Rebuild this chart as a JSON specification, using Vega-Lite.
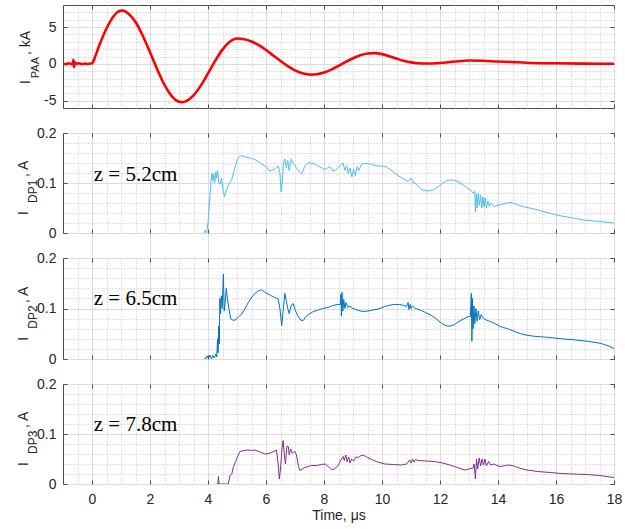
{
  "$schema": "https://vega.github.io/schema/vega-lite/v6.json",
  "padding": {"left": 16, "top": 4, "right": 5, "bottom": 5},
  "background": "white",
  "bounds": "flush",
  "spacing": 25,
  "config": {
    "view": {"stroke": "#4d4d4d", "strokeWidth": 1},
    "font": "Liberation Sans",
    "axis": {"labelFont": "Liberation Sans", "labelFontSize": 14, "labelColor": "#262626", "domain": false, "titleFont": "Liberation Sans", "titleFontSize": 14, "titleFontWeight": "normal", "titleColor": "#262626"}
  },
  "datasets": {
    "paa": [
      {"t": -1.0, "v": 0.02}, {"t": -0.9, "v": -0.05}, {"t": -0.8, "v": 0.08}, {"t": -0.7, "v": -0.03}, {"t": -0.66, "v": 0.1}, {"t": -0.64, "v": 0.55}, {"t": -0.62, "v": -0.45}, {"t": -0.6, "v": 0.25}, {"t": -0.55, "v": 0.0}, {"t": -0.45, "v": 0.08}, {"t": -0.35, "v": -0.05}, {"t": -0.25, "v": 0.05}, {"t": -0.15, "v": -0.02}, {"t": -0.05, "v": 0.05}, {"t": 0.0, "v": 0.05},
      {"t": 0.1, "v": 0.9}, {"t": 0.25, "v": 2.5}, {"t": 0.5, "v": 4.8}, {"t": 0.75, "v": 6.5}, {"t": 0.9, "v": 7.1}, {"t": 1.05, "v": 7.25}, {"t": 1.25, "v": 6.85}, {"t": 1.5, "v": 5.68}, {"t": 1.75, "v": 3.82}, {"t": 2.0, "v": 1.57}, {"t": 2.25, "v": -0.77}, {"t": 2.5, "v": -2.86}, {"t": 2.75, "v": -4.38}, {"t": 3.0, "v": -5.14}, {"t": 3.1, "v": -5.2}, {"t": 3.25, "v": -5.06}, {"t": 3.5, "v": -4.28}, {"t": 3.75, "v": -2.96}, {"t": 4.0, "v": -1.3}, {"t": 4.25, "v": 0.43}, {"t": 4.5, "v": 1.94}, {"t": 4.75, "v": 3.0}, {"t": 5.0, "v": 3.44}, {"t": 5.25, "v": 3.35}, {"t": 5.5, "v": 3.04}, {"t": 5.75, "v": 2.53}, {"t": 6.0, "v": 1.88}, {"t": 6.25, "v": 1.14}, {"t": 6.5, "v": 0.39}, {"t": 6.75, "v": -0.3}, {"t": 7.0, "v": -0.88}, {"t": 7.25, "v": -1.27}, {"t": 7.55, "v": -1.46}, {"t": 7.75, "v": -1.41}, {"t": 8.0, "v": -1.17}, {"t": 8.25, "v": -0.78}, {"t": 8.5, "v": -0.28}, {"t": 8.75, "v": 0.26}, {"t": 9.0, "v": 0.76}, {"t": 9.25, "v": 1.16}, {"t": 9.5, "v": 1.4}, {"t": 9.75, "v": 1.46}, {"t": 10.0, "v": 1.32}, {"t": 10.25, "v": 1.05}, {"t": 10.5, "v": 0.72}, {"t": 10.75, "v": 0.42}, {"t": 11.0, "v": 0.2}, {"t": 11.25, "v": 0.08}, {"t": 11.5, "v": 0.04}, {"t": 12.0, "v": 0.12}, {"t": 12.5, "v": 0.32}, {"t": 13.0, "v": 0.46}, {"t": 13.5, "v": 0.42}, {"t": 14.0, "v": 0.32}, {"t": 14.5, "v": 0.24}, {"t": 15.0, "v": 0.16}, {"t": 16.0, "v": 0.08}, {"t": 17.0, "v": 0.03}, {"t": 18.0, "v": 0.02}
    ],
    "dp1": [
      {"t": 3.86, "v": 0.0}, {"t": 3.9, "v": 0.005}, {"t": 3.95, "v": 0.0}, {"t": 4.0, "v": 0.02}, {"t": 4.05, "v": 0.06}, {"t": 4.1, "v": 0.1}, {"t": 4.13, "v": 0.12}, {"t": 4.17, "v": 0.105}, {"t": 4.2, "v": 0.118}, {"t": 4.23, "v": 0.1}, {"t": 4.27, "v": 0.122}, {"t": 4.3, "v": 0.11}, {"t": 4.33, "v": 0.125}, {"t": 4.37, "v": 0.1}, {"t": 4.42, "v": 0.098}, {"t": 4.47, "v": 0.11}, {"t": 4.52, "v": 0.085}, {"t": 4.57, "v": 0.073}, {"t": 4.6, "v": 0.08}, {"t": 4.7, "v": 0.095}, {"t": 4.82, "v": 0.107}, {"t": 4.9, "v": 0.125}, {"t": 5.0, "v": 0.145}, {"t": 5.05, "v": 0.15}, {"t": 5.15, "v": 0.155}, {"t": 5.3, "v": 0.152}, {"t": 5.45, "v": 0.15}, {"t": 5.62, "v": 0.147}, {"t": 5.8, "v": 0.14}, {"t": 5.96, "v": 0.134}, {"t": 6.14, "v": 0.124}, {"t": 6.3, "v": 0.128}, {"t": 6.42, "v": 0.134}, {"t": 6.48, "v": 0.12}, {"t": 6.52, "v": 0.082}, {"t": 6.56, "v": 0.1}, {"t": 6.6, "v": 0.14}, {"t": 6.65, "v": 0.148}, {"t": 6.7, "v": 0.13}, {"t": 6.75, "v": 0.145}, {"t": 6.8, "v": 0.125}, {"t": 6.87, "v": 0.148}, {"t": 6.94, "v": 0.14}, {"t": 7.0, "v": 0.135}, {"t": 7.1, "v": 0.125}, {"t": 7.23, "v": 0.118}, {"t": 7.34, "v": 0.134}, {"t": 7.46, "v": 0.141}, {"t": 7.68, "v": 0.138}, {"t": 7.9, "v": 0.131}, {"t": 8.02, "v": 0.127}, {"t": 8.12, "v": 0.13}, {"t": 8.2, "v": 0.133}, {"t": 8.31, "v": 0.124}, {"t": 8.4, "v": 0.126}, {"t": 8.49, "v": 0.131}, {"t": 8.6, "v": 0.137}, {"t": 8.66, "v": 0.14}, {"t": 8.72, "v": 0.125}, {"t": 8.78, "v": 0.135}, {"t": 8.84, "v": 0.118}, {"t": 8.9, "v": 0.13}, {"t": 8.96, "v": 0.112}, {"t": 9.02, "v": 0.128}, {"t": 9.08, "v": 0.115}, {"t": 9.14, "v": 0.133}, {"t": 9.2, "v": 0.125}, {"t": 9.29, "v": 0.137}, {"t": 9.4, "v": 0.139}, {"t": 9.52, "v": 0.139}, {"t": 9.7, "v": 0.136}, {"t": 9.87, "v": 0.134}, {"t": 10.0, "v": 0.134}, {"t": 10.15, "v": 0.132}, {"t": 10.35, "v": 0.124}, {"t": 10.55, "v": 0.115}, {"t": 10.75, "v": 0.108}, {"t": 10.9, "v": 0.103}, {"t": 10.95, "v": 0.106}, {"t": 11.0, "v": 0.11}, {"t": 11.05, "v": 0.104}, {"t": 11.1, "v": 0.1}, {"t": 11.2, "v": 0.097}, {"t": 11.3, "v": 0.09}, {"t": 11.4, "v": 0.086}, {"t": 11.48, "v": 0.085}, {"t": 11.6, "v": 0.084}, {"t": 11.77, "v": 0.086}, {"t": 11.9, "v": 0.091}, {"t": 12.05, "v": 0.098}, {"t": 12.2, "v": 0.104}, {"t": 12.34, "v": 0.106}, {"t": 12.45, "v": 0.106}, {"t": 12.57, "v": 0.104}, {"t": 12.7, "v": 0.1}, {"t": 12.85, "v": 0.094}, {"t": 13.0, "v": 0.088}, {"t": 13.15, "v": 0.08}, {"t": 13.2, "v": 0.084}, {"t": 13.22, "v": 0.042}, {"t": 13.25, "v": 0.078}, {"t": 13.28, "v": 0.05}, {"t": 13.32, "v": 0.08}, {"t": 13.36, "v": 0.055}, {"t": 13.4, "v": 0.076}, {"t": 13.44, "v": 0.05}, {"t": 13.48, "v": 0.072}, {"t": 13.52, "v": 0.052}, {"t": 13.56, "v": 0.07}, {"t": 13.6, "v": 0.05}, {"t": 13.65, "v": 0.064}, {"t": 13.7, "v": 0.053}, {"t": 13.75, "v": 0.06}, {"t": 13.85, "v": 0.053}, {"t": 14.0, "v": 0.055}, {"t": 14.2, "v": 0.059}, {"t": 14.45, "v": 0.061}, {"t": 14.6, "v": 0.058}, {"t": 14.79, "v": 0.054}, {"t": 15.0, "v": 0.051}, {"t": 15.25, "v": 0.048}, {"t": 15.5, "v": 0.044}, {"t": 15.82, "v": 0.039}, {"t": 16.1, "v": 0.035}, {"t": 16.4, "v": 0.032}, {"t": 16.7, "v": 0.029}, {"t": 16.97, "v": 0.026}, {"t": 17.3, "v": 0.024}, {"t": 17.54, "v": 0.023}, {"t": 17.8, "v": 0.021}, {"t": 18.0, "v": 0.02}
    ],
    "dp2": [
      {"t": 3.87, "v": 0.002}, {"t": 3.92, "v": 0.0}, {"t": 3.97, "v": 0.006}, {"t": 4.02, "v": 0.001}, {"t": 4.07, "v": 0.008}, {"t": 4.12, "v": 0.0}, {"t": 4.17, "v": 0.007}, {"t": 4.22, "v": 0.002}, {"t": 4.27, "v": 0.01}, {"t": 4.3, "v": 0.004}, {"t": 4.33, "v": 0.04}, {"t": 4.35, "v": 0.012}, {"t": 4.37, "v": 0.065}, {"t": 4.39, "v": 0.03}, {"t": 4.41, "v": 0.12}, {"t": 4.43, "v": 0.09}, {"t": 4.46, "v": 0.125}, {"t": 4.49, "v": 0.1}, {"t": 4.53, "v": 0.168}, {"t": 4.56, "v": 0.095}, {"t": 4.59, "v": 0.11}, {"t": 4.63, "v": 0.14}, {"t": 4.67, "v": 0.12}, {"t": 4.72, "v": 0.1}, {"t": 4.78, "v": 0.08}, {"t": 4.85, "v": 0.077}, {"t": 4.93, "v": 0.077}, {"t": 5.05, "v": 0.083}, {"t": 5.16, "v": 0.089}, {"t": 5.28, "v": 0.1}, {"t": 5.39, "v": 0.112}, {"t": 5.55, "v": 0.126}, {"t": 5.73, "v": 0.135}, {"t": 5.85, "v": 0.137}, {"t": 5.96, "v": 0.132}, {"t": 6.1, "v": 0.128}, {"t": 6.19, "v": 0.125}, {"t": 6.3, "v": 0.122}, {"t": 6.42, "v": 0.119}, {"t": 6.48, "v": 0.1}, {"t": 6.54, "v": 0.066}, {"t": 6.6, "v": 0.1}, {"t": 6.65, "v": 0.13}, {"t": 6.7, "v": 0.115}, {"t": 6.75, "v": 0.1}, {"t": 6.8, "v": 0.09}, {"t": 6.86, "v": 0.105}, {"t": 6.94, "v": 0.11}, {"t": 7.0, "v": 0.098}, {"t": 7.1, "v": 0.085}, {"t": 7.2, "v": 0.077}, {"t": 7.28, "v": 0.076}, {"t": 7.36, "v": 0.083}, {"t": 7.46, "v": 0.088}, {"t": 7.6, "v": 0.093}, {"t": 7.8, "v": 0.097}, {"t": 7.95, "v": 0.1}, {"t": 8.14, "v": 0.102}, {"t": 8.3, "v": 0.106}, {"t": 8.49, "v": 0.108}, {"t": 8.56, "v": 0.108}, {"t": 8.58, "v": 0.128}, {"t": 8.6, "v": 0.085}, {"t": 8.62, "v": 0.132}, {"t": 8.65, "v": 0.095}, {"t": 8.68, "v": 0.118}, {"t": 8.72, "v": 0.1}, {"t": 8.76, "v": 0.112}, {"t": 8.82, "v": 0.102}, {"t": 8.9, "v": 0.105}, {"t": 8.95, "v": 0.101}, {"t": 9.1, "v": 0.098}, {"t": 9.25, "v": 0.095}, {"t": 9.41, "v": 0.094}, {"t": 9.6, "v": 0.096}, {"t": 9.87, "v": 0.099}, {"t": 10.1, "v": 0.104}, {"t": 10.3, "v": 0.107}, {"t": 10.44, "v": 0.108}, {"t": 10.6, "v": 0.108}, {"t": 10.75, "v": 0.106}, {"t": 10.85, "v": 0.104}, {"t": 10.9, "v": 0.112}, {"t": 10.93, "v": 0.098}, {"t": 10.97, "v": 0.108}, {"t": 11.0, "v": 0.1}, {"t": 11.05, "v": 0.105}, {"t": 11.15, "v": 0.1}, {"t": 11.36, "v": 0.096}, {"t": 11.5, "v": 0.092}, {"t": 11.71, "v": 0.086}, {"t": 11.9, "v": 0.078}, {"t": 12.05, "v": 0.071}, {"t": 12.2, "v": 0.066}, {"t": 12.34, "v": 0.065}, {"t": 12.5, "v": 0.068}, {"t": 12.62, "v": 0.073}, {"t": 12.8, "v": 0.079}, {"t": 12.97, "v": 0.084}, {"t": 13.05, "v": 0.084}, {"t": 13.08, "v": 0.13}, {"t": 13.1, "v": 0.035}, {"t": 13.12, "v": 0.12}, {"t": 13.14, "v": 0.06}, {"t": 13.17, "v": 0.105}, {"t": 13.2, "v": 0.07}, {"t": 13.24, "v": 0.1}, {"t": 13.28, "v": 0.075}, {"t": 13.32, "v": 0.095}, {"t": 13.37, "v": 0.078}, {"t": 13.42, "v": 0.088}, {"t": 13.5, "v": 0.08}, {"t": 13.6, "v": 0.077}, {"t": 13.75, "v": 0.074}, {"t": 13.9, "v": 0.07}, {"t": 14.05, "v": 0.065}, {"t": 14.2, "v": 0.062}, {"t": 14.33, "v": 0.06}, {"t": 14.55, "v": 0.055}, {"t": 14.79, "v": 0.05}, {"t": 15.0, "v": 0.047}, {"t": 15.25, "v": 0.045}, {"t": 15.5, "v": 0.044}, {"t": 15.71, "v": 0.043}, {"t": 16.2, "v": 0.04}, {"t": 16.63, "v": 0.038}, {"t": 17.1, "v": 0.035}, {"t": 17.54, "v": 0.031}, {"t": 17.8, "v": 0.026}, {"t": 18.0, "v": 0.021}
    ],
    "dp3": [
      {"t": 4.3, "v": 0.0}, {"t": 4.34, "v": 0.0}, {"t": 4.36, "v": 0.015}, {"t": 4.38, "v": 0.0}, {"t": 4.7, "v": 0.0}, {"t": 4.76, "v": 0.017}, {"t": 4.82, "v": 0.02}, {"t": 4.87, "v": 0.033}, {"t": 4.95, "v": 0.045}, {"t": 5.02, "v": 0.055}, {"t": 5.1, "v": 0.065}, {"t": 5.25, "v": 0.067}, {"t": 5.39, "v": 0.068}, {"t": 5.5, "v": 0.067}, {"t": 5.62, "v": 0.068}, {"t": 5.8, "v": 0.064}, {"t": 5.96, "v": 0.06}, {"t": 6.1, "v": 0.061}, {"t": 6.19, "v": 0.063}, {"t": 6.3, "v": 0.066}, {"t": 6.36, "v": 0.068}, {"t": 6.42, "v": 0.04}, {"t": 6.46, "v": 0.01}, {"t": 6.5, "v": 0.03}, {"t": 6.55, "v": 0.07}, {"t": 6.59, "v": 0.087}, {"t": 6.63, "v": 0.06}, {"t": 6.67, "v": 0.04}, {"t": 6.72, "v": 0.075}, {"t": 6.77, "v": 0.075}, {"t": 6.8, "v": 0.058}, {"t": 6.85, "v": 0.07}, {"t": 6.9, "v": 0.062}, {"t": 6.94, "v": 0.063}, {"t": 7.0, "v": 0.065}, {"t": 7.05, "v": 0.058}, {"t": 7.12, "v": 0.035}, {"t": 7.17, "v": 0.027}, {"t": 7.25, "v": 0.03}, {"t": 7.34, "v": 0.033}, {"t": 7.45, "v": 0.035}, {"t": 7.57, "v": 0.037}, {"t": 7.75, "v": 0.037}, {"t": 7.91, "v": 0.039}, {"t": 8.05, "v": 0.04}, {"t": 8.15, "v": 0.035}, {"t": 8.25, "v": 0.029}, {"t": 8.36, "v": 0.03}, {"t": 8.49, "v": 0.037}, {"t": 8.6, "v": 0.05}, {"t": 8.66, "v": 0.055}, {"t": 8.7, "v": 0.047}, {"t": 8.75, "v": 0.058}, {"t": 8.8, "v": 0.044}, {"t": 8.85, "v": 0.054}, {"t": 8.9, "v": 0.042}, {"t": 8.95, "v": 0.05}, {"t": 9.02, "v": 0.046}, {"t": 9.1, "v": 0.054}, {"t": 9.18, "v": 0.053}, {"t": 9.25, "v": 0.056}, {"t": 9.35, "v": 0.058}, {"t": 9.5, "v": 0.053}, {"t": 9.64, "v": 0.049}, {"t": 9.85, "v": 0.044}, {"t": 10.1, "v": 0.04}, {"t": 10.4, "v": 0.039}, {"t": 10.67, "v": 0.038}, {"t": 10.85, "v": 0.04}, {"t": 10.95, "v": 0.048}, {"t": 11.0, "v": 0.042}, {"t": 11.05, "v": 0.05}, {"t": 11.1, "v": 0.044}, {"t": 11.15, "v": 0.049}, {"t": 11.24, "v": 0.047}, {"t": 11.5, "v": 0.046}, {"t": 11.81, "v": 0.045}, {"t": 12.1, "v": 0.042}, {"t": 12.39, "v": 0.037}, {"t": 12.6, "v": 0.033}, {"t": 12.85, "v": 0.028}, {"t": 13.0, "v": 0.03}, {"t": 13.14, "v": 0.032}, {"t": 13.18, "v": 0.04}, {"t": 13.22, "v": 0.01}, {"t": 13.26, "v": 0.05}, {"t": 13.3, "v": 0.03}, {"t": 13.35, "v": 0.052}, {"t": 13.4, "v": 0.036}, {"t": 13.45, "v": 0.05}, {"t": 13.5, "v": 0.038}, {"t": 13.55, "v": 0.05}, {"t": 13.6, "v": 0.036}, {"t": 13.68, "v": 0.045}, {"t": 13.75, "v": 0.038}, {"t": 13.85, "v": 0.04}, {"t": 14.0, "v": 0.036}, {"t": 14.1, "v": 0.035}, {"t": 14.25, "v": 0.037}, {"t": 14.39, "v": 0.038}, {"t": 14.6, "v": 0.035}, {"t": 14.79, "v": 0.031}, {"t": 15.0, "v": 0.028}, {"t": 15.37, "v": 0.025}, {"t": 15.8, "v": 0.023}, {"t": 16.17, "v": 0.021}, {"t": 16.6, "v": 0.02}, {"t": 17.08, "v": 0.019}, {"t": 17.5, "v": 0.017}, {"t": 18.0, "v": 0.013}
    ]
  },
  "vconcat": [
    {
      "width": 551, "height": 103,
      "resolve": {"axis": {"x": "independent", "y": "independent"}},
      "layer": [
        {
          "data": {"name": "paa"},
          "mark": {"type": "line", "color": "#ff0000", "strokeWidth": 2.6, "interpolate": "monotone", "clip": true},
          "encoding": {
            "x": {"field": "t", "type": "quantitative", "scale": {"domain": [-1, 18], "nice": false, "zero": false},
              "axis": {"orient": "bottom", "values": [0,2,4,6,8,10,12,14,16,18], "labels": false, "title": null, "grid": true, "gridColor": "#dcdcdc", "ticks": true, "tickSize": 25, "tickColor": "#dcdcdc"}},
            "y": {"field": "v", "type": "quantitative", "scale": {"domain": [-6, 8], "nice": false, "zero": false},
              "axis": {"orient": "left", "values": [-5,0,5], "labelExpr": "'' + datum.value", "title": null, "grid": true, "gridColor": "#dcdcdc", "ticks": true, "tickSize": -4, "tickColor": "#4d4d4d", "labelPadding": 11, "labelFlush": false}}
          }
        },
        {
          "data": {"values": [{}]},
          "mark": {"type": "text", "text": "I", "angle": 270, "align": "left", "baseline": "alphabetic", "fontSize": 14, "font": "Liberation Sans", "fill": "#262626"},
          "encoding": {
            "x": {"datum": -2.14, "type": "quantitative", "scale": {"domain": [-1, 18], "nice": false, "zero": false},
              "axis": {"orient": "top", "values": [-0.5,0.5,1,1.5,2.5,3,3.5,4.5,5,5.5,6.5,7,7.5,8.5,9,9.5,10.5,11,11.5,12.5,13,13.5,14.5,15,15.5,16.5,17,17.5], "labels": false, "ticks": false, "title": null, "grid": true, "gridColor": "#c4c4c4", "gridDash": [1, 2]}},
            "y": {"datum": -2.74, "type": "quantitative", "scale": {"domain": [-6, 8], "nice": false, "zero": false},
              "axis": {"orient": "right", "values": [-4,-3,-2,-1,1,2,3,4,6,7], "labels": false, "ticks": false, "title": null, "grid": true, "gridColor": "#c4c4c4", "gridDash": [1, 2]}}
          }
        },
        {
          "data": {"values": [{}]},
          "mark": {"type": "text", "text": "PAA", "angle": 270, "align": "left", "baseline": "alphabetic", "fontSize": 11, "font": "Liberation Sans", "fill": "#262626"},
          "encoding": {
            "x": {"datum": -1.83, "type": "quantitative", "scale": {"domain": [-1, 18], "nice": false, "zero": false},
              "axis": {"orient": "top", "values": [0,2,4,6,8,10,12,14,16,18], "labels": false, "grid": false, "title": null, "ticks": true, "tickSize": -4, "tickColor": "#4d4d4d"}},
            "y": {"datum": -1.95, "type": "quantitative", "scale": {"domain": [-6, 8], "nice": false, "zero": false},
              "axis": {"orient": "right", "values": [-5,0,5], "labels": false, "grid": false, "title": null, "ticks": true, "tickSize": -4, "tickColor": "#4d4d4d"}}
          }
        },
        {
          "data": {"values": [{}]},
          "mark": {"type": "text", "text": ", kA", "angle": 270, "align": "left", "baseline": "alphabetic", "fontSize": 14, "font": "Liberation Sans", "fill": "#262626"},
          "encoding": {
            "x": {"datum": -2.14, "type": "quantitative", "scale": {"domain": [-1, 18], "nice": false, "zero": false},
              "axis": {"orient": "bottom", "values": [0,2,4,6,8,10,12,14,16,18], "labels": false, "grid": false, "title": null, "ticks": true, "tickSize": -4, "tickColor": "#4d4d4d"}},
            "y": {"datum": 1.2, "type": "quantitative", "scale": {"domain": [-6, 8], "nice": false, "zero": false}, "axis": null}
          }
        }
      ]
    },
    {
      "width": 551, "height": 100,
      "resolve": {"axis": {"x": "independent", "y": "independent"}},
      "layer": [
        {
          "data": {"name": "dp1"},
          "mark": {"type": "line", "color": "#4dbeee", "strokeWidth": 1, "clip": true},
          "encoding": {
            "x": {"field": "t", "type": "quantitative", "scale": {"domain": [-1, 18], "nice": false, "zero": false},
              "axis": {"orient": "bottom", "values": [0,2,4,6,8,10,12,14,16,18], "labels": false, "title": null, "grid": true, "gridColor": "#dcdcdc", "ticks": true, "tickSize": 25, "tickColor": "#dcdcdc"}},
            "y": {"field": "v", "type": "quantitative", "scale": {"domain": [0, 0.2], "nice": false, "zero": false},
              "axis": {"orient": "left", "values": [0,0.1,0.2], "labelExpr": "'' + datum.value", "title": null, "grid": true, "gridColor": "#dcdcdc", "ticks": true, "tickSize": -4, "tickColor": "#4d4d4d", "labelPadding": 11, "labelFlush": false}}
          }
        },
        {
          "data": {"values": [{}]},
          "mark": {"type": "text", "text": "I", "angle": 270, "align": "left", "baseline": "alphabetic", "fontSize": 14, "font": "Liberation Sans", "fill": "#262626"},
          "encoding": {
            "x": {"datum": -2.19, "type": "quantitative", "scale": {"domain": [-1, 18], "nice": false, "zero": false},
              "axis": {"orient": "top", "values": [-0.5,0.5,1,1.5,2.5,3,3.5,4.5,5,5.5,6.5,7,7.5,8.5,9,9.5,10.5,11,11.5,12.5,13,13.5,14.5,15,15.5,16.5,17,17.5], "labels": false, "ticks": false, "title": null, "grid": true, "gridColor": "#c4c4c4", "gridDash": [1, 2]}},
            "y": {"datum": 0.036, "type": "quantitative", "scale": {"domain": [0, 0.2], "nice": false, "zero": false},
              "axis": {"orient": "right", "values": [0.02,0.04,0.06,0.08,0.12,0.14,0.16,0.18], "labels": false, "ticks": false, "title": null, "grid": true, "gridColor": "#c4c4c4", "gridDash": [1, 2]}}
          }
        },
        {
          "data": {"values": [{}]},
          "mark": {"type": "text", "text": "DP1", "angle": 270, "align": "left", "baseline": "alphabetic", "fontSize": 12, "font": "Liberation Sans", "fill": "#262626"},
          "encoding": {
            "x": {"datum": -1.9, "type": "quantitative", "scale": {"domain": [-1, 18], "nice": false, "zero": false},
              "axis": {"orient": "top", "values": [0,2,4,6,8,10,12,14,16,18], "labels": false, "grid": false, "title": null, "ticks": true, "tickSize": -4, "tickColor": "#4d4d4d"}},
            "y": {"datum": 0.06, "type": "quantitative", "scale": {"domain": [0, 0.2], "nice": false, "zero": false},
              "axis": {"orient": "right", "values": [0,0.1,0.2], "labels": false, "grid": false, "title": null, "ticks": true, "tickSize": -4, "tickColor": "#4d4d4d"}}
          }
        },
        {
          "data": {"values": [{}]},
          "mark": {"type": "text", "text": ", A", "angle": 270, "align": "left", "baseline": "alphabetic", "fontSize": 14, "font": "Liberation Sans", "fill": "#262626"},
          "encoding": {
            "x": {"datum": -2.19, "type": "quantitative", "scale": {"domain": [-1, 18], "nice": false, "zero": false},
              "axis": {"orient": "bottom", "values": [0,2,4,6,8,10,12,14,16,18], "labels": false, "grid": false, "title": null, "ticks": true, "tickSize": -4, "tickColor": "#4d4d4d"}},
            "y": {"datum": 0.112, "type": "quantitative", "scale": {"domain": [0, 0.2], "nice": false, "zero": false}, "axis": null}
          }
        },
        {
          "data": {"values": [{}]},
          "mark": {"type": "text", "text": "z = 5.2cm", "align": "left", "baseline": "alphabetic", "fontSize": 21, "font": "Liberation Serif", "fill": "#000000"},
          "encoding": {"x": {"datum": 0.06, "type": "quantitative", "scale": {"domain": [-1, 18], "nice": false, "zero": false}, "axis": null}, "y": {"datum": 0.105, "type": "quantitative", "scale": {"domain": [0, 0.2], "nice": false, "zero": false}, "axis": null}}
        }
      ]
    },
    {
      "width": 551, "height": 101,
      "resolve": {"axis": {"x": "independent", "y": "independent"}},
      "layer": [
        {
          "data": {"name": "dp2"},
          "mark": {"type": "line", "color": "#0072bd", "strokeWidth": 1, "clip": true},
          "encoding": {
            "x": {"field": "t", "type": "quantitative", "scale": {"domain": [-1, 18], "nice": false, "zero": false},
              "axis": {"orient": "bottom", "values": [0,2,4,6,8,10,12,14,16,18], "labels": false, "title": null, "grid": true, "gridColor": "#dcdcdc", "ticks": true, "tickSize": 25, "tickColor": "#dcdcdc"}},
            "y": {"field": "v", "type": "quantitative", "scale": {"domain": [0, 0.2], "nice": false, "zero": false},
              "axis": {"orient": "left", "values": [0,0.1,0.2], "labelExpr": "'' + datum.value", "title": null, "grid": true, "gridColor": "#dcdcdc", "ticks": true, "tickSize": -4, "tickColor": "#4d4d4d", "labelPadding": 11, "labelFlush": false}}
          }
        },
        {
          "data": {"values": [{}]},
          "mark": {"type": "text", "text": "I", "angle": 270, "align": "left", "baseline": "alphabetic", "fontSize": 14, "font": "Liberation Sans", "fill": "#262626"},
          "encoding": {
            "x": {"datum": -2.19, "type": "quantitative", "scale": {"domain": [-1, 18], "nice": false, "zero": false},
              "axis": {"orient": "top", "values": [-0.5,0.5,1,1.5,2.5,3,3.5,4.5,5,5.5,6.5,7,7.5,8.5,9,9.5,10.5,11,11.5,12.5,13,13.5,14.5,15,15.5,16.5,17,17.5], "labels": false, "ticks": false, "title": null, "grid": true, "gridColor": "#c4c4c4", "gridDash": [1, 2]}},
            "y": {"datum": 0.036, "type": "quantitative", "scale": {"domain": [0, 0.2], "nice": false, "zero": false},
              "axis": {"orient": "right", "values": [0.02,0.04,0.06,0.08,0.12,0.14,0.16,0.18], "labels": false, "ticks": false, "title": null, "grid": true, "gridColor": "#c4c4c4", "gridDash": [1, 2]}}
          }
        },
        {
          "data": {"values": [{}]},
          "mark": {"type": "text", "text": "DP2", "angle": 270, "align": "left", "baseline": "alphabetic", "fontSize": 12, "font": "Liberation Sans", "fill": "#262626"},
          "encoding": {
            "x": {"datum": -1.9, "type": "quantitative", "scale": {"domain": [-1, 18], "nice": false, "zero": false},
              "axis": {"orient": "top", "values": [0,2,4,6,8,10,12,14,16,18], "labels": false, "grid": false, "title": null, "ticks": true, "tickSize": -4, "tickColor": "#4d4d4d"}},
            "y": {"datum": 0.06, "type": "quantitative", "scale": {"domain": [0, 0.2], "nice": false, "zero": false},
              "axis": {"orient": "right", "values": [0,0.1,0.2], "labels": false, "grid": false, "title": null, "ticks": true, "tickSize": -4, "tickColor": "#4d4d4d"}}
          }
        },
        {
          "data": {"values": [{}]},
          "mark": {"type": "text", "text": ", A", "angle": 270, "align": "left", "baseline": "alphabetic", "fontSize": 14, "font": "Liberation Sans", "fill": "#262626"},
          "encoding": {
            "x": {"datum": -2.19, "type": "quantitative", "scale": {"domain": [-1, 18], "nice": false, "zero": false},
              "axis": {"orient": "bottom", "values": [0,2,4,6,8,10,12,14,16,18], "labels": false, "grid": false, "title": null, "ticks": true, "tickSize": -4, "tickColor": "#4d4d4d"}},
            "y": {"datum": 0.111, "type": "quantitative", "scale": {"domain": [0, 0.2], "nice": false, "zero": false}, "axis": null}
          }
        },
        {
          "data": {"values": [{}]},
          "mark": {"type": "text", "text": "z = 6.5cm", "align": "left", "baseline": "alphabetic", "fontSize": 21, "font": "Liberation Serif", "fill": "#000000"},
          "encoding": {"x": {"datum": 0.06, "type": "quantitative", "scale": {"domain": [-1, 18], "nice": false, "zero": false}, "axis": null}, "y": {"datum": 0.107, "type": "quantitative", "scale": {"domain": [0, 0.2], "nice": false, "zero": false}, "axis": null}}
        }
      ]
    },
    {
      "width": 551, "height": 100,
      "resolve": {"axis": {"x": "independent", "y": "independent"}},
      "layer": [
        {
          "data": {"name": "dp3"},
          "mark": {"type": "line", "color": "#7e2f8e", "strokeWidth": 1, "clip": true},
          "encoding": {
            "x": {"field": "t", "type": "quantitative", "scale": {"domain": [-1, 18], "nice": false, "zero": false},
              "axis": {"orient": "bottom", "values": [0,2,4,6,8,10,12,14,16,18], "labelExpr": "'' + datum.value", "title": "Time, μs", "titlePadding": 2, "grid": true, "gridColor": "#dcdcdc", "ticks": true, "tickSize": -4, "tickColor": "#4d4d4d", "labelPadding": 12, "labelFlush": false}},
            "y": {"field": "v", "type": "quantitative", "scale": {"domain": [0, 0.2], "nice": false, "zero": false},
              "axis": {"orient": "left", "values": [0,0.1,0.2], "labelExpr": "'' + datum.value", "title": null, "grid": true, "gridColor": "#dcdcdc", "ticks": true, "tickSize": -4, "tickColor": "#4d4d4d", "labelPadding": 11, "labelFlush": false}}
          }
        },
        {
          "data": {"values": [{}]},
          "mark": {"type": "text", "text": "I", "angle": 270, "align": "left", "baseline": "alphabetic", "fontSize": 14, "font": "Liberation Sans", "fill": "#262626"},
          "encoding": {
            "x": {"datum": -2.19, "type": "quantitative", "scale": {"domain": [-1, 18], "nice": false, "zero": false},
              "axis": {"orient": "top", "values": [-0.5,0.5,1,1.5,2.5,3,3.5,4.5,5,5.5,6.5,7,7.5,8.5,9,9.5,10.5,11,11.5,12.5,13,13.5,14.5,15,15.5,16.5,17,17.5], "labels": false, "ticks": false, "title": null, "grid": true, "gridColor": "#c4c4c4", "gridDash": [1, 2]}},
            "y": {"datum": 0.036, "type": "quantitative", "scale": {"domain": [0, 0.2], "nice": false, "zero": false},
              "axis": {"orient": "right", "values": [0.02,0.04,0.06,0.08,0.12,0.14,0.16,0.18], "labels": false, "ticks": false, "title": null, "grid": true, "gridColor": "#c4c4c4", "gridDash": [1, 2]}}
          }
        },
        {
          "data": {"values": [{}]},
          "mark": {"type": "text", "text": "DP3", "angle": 270, "align": "left", "baseline": "alphabetic", "fontSize": 12, "font": "Liberation Sans", "fill": "#262626"},
          "encoding": {
            "x": {"datum": -1.9, "type": "quantitative", "scale": {"domain": [-1, 18], "nice": false, "zero": false},
              "axis": {"orient": "top", "values": [0,2,4,6,8,10,12,14,16,18], "labels": false, "grid": false, "title": null, "ticks": true, "tickSize": -4, "tickColor": "#4d4d4d"}},
            "y": {"datum": 0.06, "type": "quantitative", "scale": {"domain": [0, 0.2], "nice": false, "zero": false},
              "axis": {"orient": "right", "values": [0,0.1,0.2], "labels": false, "grid": false, "title": null, "ticks": true, "tickSize": -4, "tickColor": "#4d4d4d"}}
          }
        },
        {
          "data": {"values": [{}]},
          "mark": {"type": "text", "text": ", A", "angle": 270, "align": "left", "baseline": "alphabetic", "fontSize": 14, "font": "Liberation Sans", "fill": "#262626"},
          "encoding": {"x": {"datum": -2.19, "type": "quantitative", "scale": {"domain": [-1, 18], "nice": false, "zero": false}, "axis": null}, "y": {"datum": 0.112, "type": "quantitative", "scale": {"domain": [0, 0.2], "nice": false, "zero": false}, "axis": null}}
        },
        {
          "data": {"values": [{}]},
          "mark": {"type": "text", "text": "z = 7.8cm", "align": "left", "baseline": "alphabetic", "fontSize": 21, "font": "Liberation Serif", "fill": "#000000"},
          "encoding": {"x": {"datum": 0.06, "type": "quantitative", "scale": {"domain": [-1, 18], "nice": false, "zero": false}, "axis": null}, "y": {"datum": 0.107, "type": "quantitative", "scale": {"domain": [0, 0.2], "nice": false, "zero": false}, "axis": null}}
        }
      ]
    }
  ]
}
